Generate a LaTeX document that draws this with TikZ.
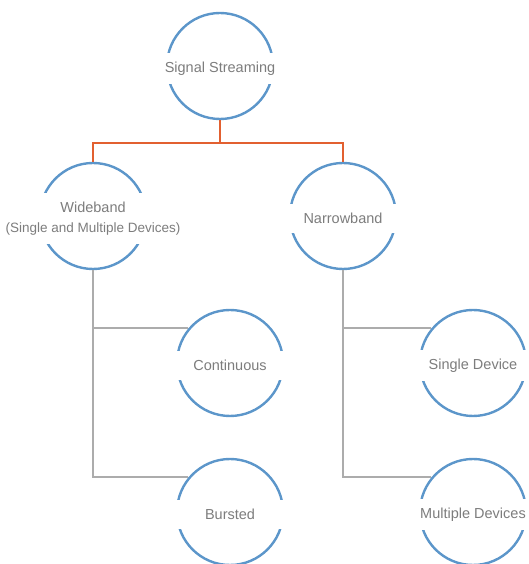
\documentclass[tikz,border=0pt]{standalone}
\usepackage{fontspec}
\setmainfont{Liberation Sans}
\usetikzlibrary{positioning}
\definecolor{ringblue}{RGB}{92,150,202}
\definecolor{splitorange}{RGB}{226,96,48}
\definecolor{stemgray}{RGB}{172,172,172}
\definecolor{textgray}{RGB}{125,125,125}

\begin{document}
\begin{tikzpicture}[x=1pt, y=1pt, node distance=150pt, on grid,
        ring/.style={circle, line width=2.4pt, draw=ringblue, minimum size=106pt, inner sep=0pt,
            label={[tag]center:#1}},
        tag/.style={fill=white, text=textgray, font=\fontsize{14.5}{17}\selectfont, align=center,
            minimum width=116pt, inner ysep=9pt, inner xsep=0pt, yshift=-2.5pt},
        split/.style={line width=2.4pt, draw=splitorange},
        stem/.style={line width=2.4pt, draw=stemgray}]

        \useasboundingbox (0,0) rectangle (528,564);

        % Nodes
        \node[ring={Signal Streaming}] (top) at (220,498) {};
        \node[ring={Wideband\\[3pt]{\fontsize{13.5}{15}\selectfont (Single and Multiple Devices)}}] (wide) [below left=150pt and 127pt of top] {};
        \node[ring={Narrowband}] (narrow) [right=250pt of wide] {};
        \node[ring={Continuous}] (cont) [below right=147pt and 137pt of wide] {};
        \node[ring={Bursted}] (burst) [below=149pt of cont] {};
        \node[ring={Single Device}] (single) [right=243pt of cont] {};
        \node[ring={Multiple Devices}] (multi) [below=149pt of single] {};

        % Connectors
        \coordinate (fork) at ([yshift=-23pt]top.south);
        \draw[split] (top.south) -- (fork) -| (wide.north);
        \draw[split] (fork) -| (narrow.north);
        \draw[stem] (wide.south) |- (cont.140);
        \draw[stem] (wide.south) |- (burst.140);
        \draw[stem] (narrow.south) |- (single.140);
        \draw[stem] (narrow.south) |- (multi.140);
    \end{tikzpicture}
\end{document}
